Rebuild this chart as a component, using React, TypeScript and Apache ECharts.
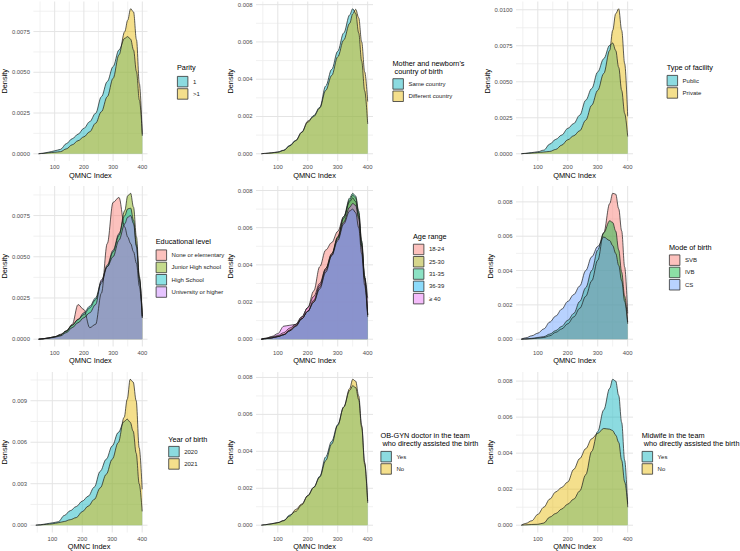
import React, { useEffect, useRef } from "react";
import * as echarts from "echarts";

// QMNC Index grid at which densities were read
const QMNC = [45, 60, 80, 100, 120, 140, 160, 180, 200, 220, 240, 260, 280, 300, 320, 340, 350, 360, 370, 380, 390, 400];
const X_TICKS = [100, 200, 300, 400];
const X_MINOR = [50, 150, 250, 350];

// densities (x 1000)
const parity1 = [0, 0.03, 0.1, 0.18, 0.27, 0.62, 0.92, 1.2, 1.56, 1.97, 2.48, 3.5, 4.43, 5.35, 6.37, 7.09, 7.19, 7.03, 6.37, 5.04, 3.3, 1.2];
const parityGt1 = [0, 0.02, 0.06, 0.09, 0.13, 0.3, 0.55, 0.8, 1.04, 1.35, 1.87, 2.58, 3.5, 4.63, 6.07, 7.5, 8.2, 8.9, 8.7, 7.0, 4.3, 1.1];

const sameCountry = [0, 0.02, 0.05, 0.1, 0.19, 0.45, 0.72, 1.16, 1.69, 2.05, 2.49, 3.64, 4.53, 5.5, 6.48, 7.45, 7.78, 7.54, 6.48, 4.97, 3.38, 1.6];
const diffCountry = [0, 0.02, 0.05, 0.08, 0.18, 0.42, 0.7, 1.15, 1.75, 2.0, 2.45, 3.4, 4.2, 5.2, 6.1, 7.0, 7.5, 7.75, 7.3, 6.0, 4.4, 2.8];

const facilityPublic = [0, 0.03, 0.08, 0.14, 0.25, 0.67, 1.0, 1.3, 1.76, 2.1, 2.68, 3.72, 4.53, 5.68, 6.6, 7.53, 7.69, 7.18, 6.0, 4.4, 2.8, 1.2];
const facilityPrivate = [0, 0.02, 0.05, 0.08, 0.12, 0.16, 0.3, 0.6, 0.97, 1.25, 1.6, 2.33, 3.37, 4.4, 5.57, 7.18, 8.57, 9.72, 10.07, 8.57, 6.26, 2.6];

const eduNone = [0, 0.02, 0.08, 0.15, 0.3, 0.5, 0.9, 2.1, 1.8, 0.7, 0.9, 2.8, 5.8, 8.3, 8.6, 6.8, 6.2, 5.8, 5.3, 4.6, 3.2, 1.3];
const eduJunior = [0, 0.03, 0.08, 0.15, 0.25, 0.5, 0.85, 1.2, 1.5, 1.9, 2.4, 3.4, 4.4, 5.3, 6.3, 7.8, 8.7, 8.85, 8.0, 6.2, 3.8, 1.3];
const eduHigh = [0, 0.03, 0.08, 0.15, 0.25, 0.5, 0.85, 1.2, 1.6, 2.0, 2.5, 3.5, 4.5, 5.4, 6.4, 7.5, 7.9, 7.95, 7.2, 5.7, 3.7, 1.4];
const eduUniv = [0, 0.02, 0.06, 0.12, 0.2, 0.4, 0.7, 1.0, 1.3, 1.6, 2.1, 3.6, 4.4, 5.0, 6.0, 7.0, 7.4, 7.5, 7.0, 5.6, 3.6, 1.4];

const age1824 = [0, 0.05, 0.12, 0.2, 0.35, 0.6, 0.8, 1.2, 1.7, 2.6, 3.9, 4.8, 5.2, 5.8, 6.6, 7.4, 7.6, 7.4, 6.6, 5.0, 3.2, 1.3];
const age2530 = [0, 0.03, 0.07, 0.15, 0.25, 0.5, 0.75, 1.1, 1.5, 2.1, 2.9, 3.8, 4.6, 5.5, 6.5, 7.5, 7.75, 7.6, 6.8, 5.2, 3.3, 1.3];
const age3135 = [0, 0.03, 0.07, 0.14, 0.24, 0.45, 0.7, 1.1, 1.5, 2.0, 2.7, 3.6, 4.5, 5.5, 6.6, 7.6, 7.85, 7.7, 6.9, 5.3, 3.4, 1.3];
const age3639 = [0, 0.03, 0.07, 0.14, 0.24, 0.45, 0.7, 1.1, 1.5, 2.0, 2.8, 3.7, 4.5, 5.3, 6.2, 6.9, 7.0, 6.8, 6.0, 4.6, 2.9, 1.2];
const age40 = [0, 0.05, 0.15, 0.3, 0.7, 0.75, 0.8, 1.2, 1.7, 2.3, 3.0, 3.8, 4.6, 5.4, 6.3, 7.1, 7.3, 7.2, 6.5, 5.0, 3.3, 2.2];

const modeSVB = [0, 0.01, 0.03, 0.06, 0.1, 0.2, 0.4, 0.6, 0.9, 1.3, 1.8, 2.5, 3.4, 4.6, 6.2, 7.9, 8.5, 8.45, 7.6, 6.3, 4.2, 1.5];
const modeIVB = [0, 0.02, 0.05, 0.1, 0.15, 0.3, 0.5, 0.75, 1.1, 1.5, 2.2, 3.0, 4.0, 5.2, 6.2, 6.9, 6.8, 6.3, 5.2, 3.9, 2.5, 1.0];
const modeCS = [0, 0.08, 0.2, 0.35, 0.6, 1.0, 1.35, 1.75, 2.2, 2.6, 3.1, 4.0, 4.8, 5.4, 5.95, 5.75, 5.45, 5.0, 4.3, 3.4, 2.2, 0.9];

const year2020 = [0, 0.03, 0.1, 0.17, 0.25, 0.7, 1.05, 1.35, 1.74, 2.1, 2.75, 3.9, 4.77, 5.73, 6.7, 7.5, 7.67, 7.45, 6.8, 5.2, 3.0, 1.0];
const year2021 = [0, 0.02, 0.06, 0.1, 0.18, 0.27, 0.4, 0.55, 0.98, 1.38, 1.86, 2.7, 3.68, 4.77, 5.97, 7.8, 9.1, 10.55, 10.35, 9.0, 5.6, 2.6];

const obYes = [0, 0.03, 0.08, 0.14, 0.25, 0.55, 0.75, 1.1, 1.6, 2.05, 2.65, 3.7, 4.55, 5.45, 6.4, 7.3, 7.55, 7.45, 6.8, 5.3, 3.3, 1.2];
const obNo = [0, 0.03, 0.08, 0.14, 0.25, 0.5, 0.85, 1.15, 1.6, 2.05, 2.6, 3.5, 4.4, 5.4, 6.4, 7.4, 7.9, 7.8, 7.0, 5.4, 3.4, 1.3];

const mwYes = [0, 0.02, 0.04, 0.05, 0.12, 0.45, 0.65, 0.9, 1.17, 1.45, 1.9, 2.8, 4.1, 5.2, 6.4, 7.6, 8.1, 8.0, 7.2, 5.7, 3.6, 1.0];
const mwNo = [0, 0.1, 0.25, 0.6, 1.0, 1.45, 1.85, 2.1, 2.4, 3.1, 3.7, 4.25, 4.8, 5.1, 5.37, 5.33, 5.25, 5.0, 4.6, 3.6, 2.4, 1.2];

const TWO = ["#00AFBB", "#E7B800"];
const HUE3 = ["#F8766D", "#00BA38", "#619CFF"];
const HUE4 = ["#F8766D", "#7CAE00", "#00BFC4", "#C77CFF"];
const HUE5 = ["#F8766D", "#A3A500", "#00BF7D", "#00B0F6", "#E76BF3"];

const PANELS = [
  { title: "Parity", groups: ["1", ">1"], colors: TWO, values: [parity1, parityGt1], step: 0.0025, dec: 4 },
  { title: "Mother and newborn's\n country of birth", groups: ["Same country", "Different country"], colors: TWO, values: [sameCountry, diffCountry], step: 0.002, dec: 3 },
  { title: "Type of facility", groups: ["Public", "Private"], colors: TWO, values: [facilityPublic, facilityPrivate], step: 0.0025, dec: 4 },
  { title: "Educational level", groups: ["None or elementary", "Junior High school", "High School", "University or higher"], colors: HUE4, values: [eduNone, eduJunior, eduHigh, eduUniv], step: 0.0025, dec: 4 },
  { title: "Age range", groups: ["18-24", "25-30", "31-35", "36-39", "\u2265 40"], colors: HUE5, values: [age1824, age2530, age3135, age3639, age40], step: 0.002, dec: 3 },
  { title: "Mode of birth", groups: ["SVB", "IVB", "CS"], colors: HUE3, values: [modeSVB, modeIVB, modeCS], step: 0.002, dec: 3 },
  { title: "Year of birth", groups: ["2020", "2021"], colors: TWO, values: [year2020, year2021], step: 0.003, dec: 3 },
  { title: "OB-GYN doctor in the team\n who directly assisted the birth", groups: ["Yes", "No"], colors: TWO, values: [obYes, obNo], step: 0.002, dec: 3 },
  { title: "Midwife in the team\n who directly assisted the birth", groups: ["Yes", "No"], colors: TWO, values: [mwYes, mwNo], step: 0.002, dec: 3 },
];

// layout
const COL_LEFT = [30.5, 256, 516];
const COL_WIDTH = 117;
const ROW_TOP = [1.5, 186, 372];
const ROW_HEIGHT = [159.5, 160.5, 161];
const Y_NAME_GAP = [22.3, 19.3, 20.3];
const LEGEND_POS = [
  { x: 177, y: 76, ty: 63.8 },
  { x: 392.5, y: 78.3, ty: 59.3 },
  { x: 666.7, y: 75, ty: 63.5 },
  { x: 155.7, y: 249.5, ty: 237.5 },
  { x: 413, y: 243.8, ty: 232.5 },
  { x: 669, y: 254.5, ty: 243.5 },
  { x: 168.3, y: 446, ty: 435.1 },
  { x: 380.5, y: 451, ty: 431.7 },
  { x: 641.7, y: 451, ty: 431.7 },
];

const FONT = "'Liberation Sans', Arial, Helvetica, sans-serif";
const ALPHA = 0.45;
const GRID_MAJOR = { color: "#E4E4E4", width: 1, type: "solid" };
const GRID_MINOR = { color: "#EEEEEE", width: 0.8, type: "solid" };

function rgba(hex: string, a: number) {
  const n = parseInt(hex.slice(1), 16);
  return `rgba(${(n >> 16) & 255},${(n >> 8) & 255},${n & 255},${a})`;
}

function buildOption() {
  const grid: any[] = [];
  const xAxis: any[] = [];
  const yAxis: any[] = [];
  const series: any[] = [];
  const legend: any[] = [];
  const title: any[] = [];
  const xMin = Math.min(...QMNC);
  const xMax = Math.max(...QMNC);
  const xPad = (xMax - xMin) * 0.05;
  const xLo = xMin - xPad;
  const xHi = xMax + xPad;

  PANELS.forEach((p, i) => {
    const col = i % 3;
    const row = Math.floor(i / 3);
    const M = Math.max(...p.values.flat()) / 1000;
    const yMin = -0.05 * M;
    const yMax = 1.05 * M;
    grid.push({ left: COL_LEFT[col], top: ROW_TOP[row], width: COL_WIDTH, height: ROW_HEIGHT[row], containLabel: false });
    xAxis.push({
      type: "value", gridIndex: i, min: xLo, max: xHi,
      axisLine: { show: false }, axisTick: { show: false }, splitLine: { show: false },
      axisLabel: { customValues: X_TICKS, formatter: (v: number) => String(v), fontSize: 5.9, color: "#4D4D4D", margin: 3, fontFamily: FONT },
      name: "QMNC Index", nameLocation: "middle", nameGap: 10.5,
      nameTextStyle: { fontSize: 7.4, color: "#000", fontFamily: FONT },
    });
    const majors: number[] = [];
    for (let k = 0; k * p.step <= yMax + 1e-12; k++) majors.push(+(k * p.step).toFixed(6));
    const minors: number[] = [];
    for (let k = 0; (k + 0.5) * p.step <= yMax; k++) minors.push((k + 0.5) * p.step);
    yAxis.push({
      type: "value", gridIndex: i, min: yMin, max: yMax,
      axisLine: { show: false }, axisTick: { show: false }, splitLine: { show: false },
      axisLabel: { customValues: majors, formatter: (v: number) => v.toFixed(p.dec), fontSize: 5.9, color: "#4D4D4D", margin: 3.5, fontFamily: FONT },
      name: "Density", nameLocation: "middle", nameGap: Y_NAME_GAP[col],
      nameTextStyle: { fontSize: 7.4, color: "#000", fontFamily: FONT },
    });
    const gridLine = (data: number[][], style: any) => ({
      type: "line", xAxisIndex: i, yAxisIndex: i, data, silent: true, z: 1,
      symbol: "none", showSymbol: false, lineStyle: style, emphasis: { disabled: true }, tooltip: { show: false },
    });
    X_MINOR.forEach((v) => series.push(gridLine([[v, yMin], [v, yMax]], GRID_MINOR)));
    minors.forEach((v) => series.push(gridLine([[xLo, v], [xHi, v]], GRID_MINOR)));
    X_TICKS.forEach((v) => series.push(gridLine([[v, yMin], [v, yMax]], GRID_MAJOR)));
    majors.forEach((v) => series.push(gridLine([[xLo, v], [xHi, v]], GRID_MAJOR)));

    p.groups.forEach((g, j) => {
      series.push({
        type: "line", name: g, xAxisIndex: i, yAxisIndex: i,
        data: QMNC.map((x, k) => [x, p.values[j][k] / 1000]),
        smooth: 0.35, smoothMonotone: "x", symbol: "none", showSymbol: false, z: 10, silent: true,
        color: p.colors[j],
        lineStyle: { color: "#1a1a1a", width: 0.7 },
        areaStyle: { color: rgba(p.colors[j], ALPHA), opacity: 1 },
        emphasis: { disabled: true },
      });
    });
    const lp = LEGEND_POS[i];
    legend.push({
      orient: "vertical", left: lp.x, top: lp.y, padding: 0, itemWidth: 10.5, itemHeight: 10.5, itemGap: 1,
      icon: "rect", selectedMode: false,
      textStyle: { fontSize: 6, color: "#1a1a1a", fontFamily: FONT },
      data: p.groups.map((g, j) => ({ name: g, itemStyle: { color: rgba(p.colors[j], ALPHA), borderColor: "#333", borderWidth: 0.8 } })),
    });
    title.push({
      text: p.title, left: lp.x, top: lp.ty, padding: 0,
      textStyle: { fontSize: 7.3, fontWeight: "normal", color: "#000", lineHeight: 8.2, fontFamily: FONT },
    });
  });

  return {
    animation: false,
    backgroundColor: "#fff",
    textStyle: { fontFamily: FONT },
    grid, xAxis, yAxis, series, legend, title,
  };
}

export default function App() {
  const ref = useRef<HTMLDivElement>(null);
  useEffect(() => {
    if (!ref.current) return;
    const chart = echarts.init(ref.current, null, { renderer: "svg" });
    chart.setOption(buildOption() as any);
    return () => chart.dispose();
  }, []);
  return <div ref={ref} style={{ position: "fixed", left: 0, top: 0, width: 740, height: 551, background: "#fff" }} />;
}
